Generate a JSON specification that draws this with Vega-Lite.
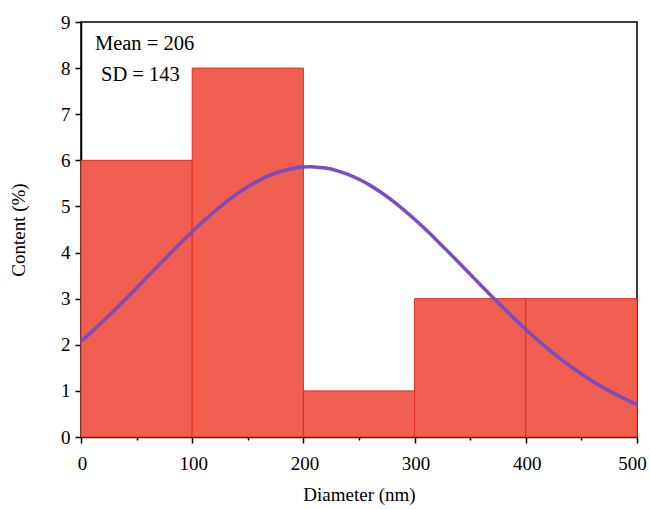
{
  "$schema": "https://vega.github.io/schema/vega-lite/v6.json",
  "width": 556,
  "height": 415,
  "autosize": {"type": "none"},
  "padding": {"left": 81, "top": 22, "right": 13, "bottom": 72},
  "background": "white",
  "config": {
    "view": {"stroke": "black", "strokeWidth": 1.5},
    "font": "Liberation Serif",
    "axis": {
      "domainColor": "black", "domainWidth": 1.5, "tickColor": "black", "tickWidth": 1.5,
      "labelFont": "Liberation Serif", "titleFont": "Liberation Serif",
      "labelFontSize": 19, "titleFontSize": 19, "titleFontWeight": "normal",
      "labelColor": "black", "titleColor": "black", "grid": false
    }
  },
  "datasets": {
    "bars": [
      {"start": 0, "end": 100, "content": 6},
      {"start": 100, "end": 200, "content": 8},
      {"start": 200, "end": 300, "content": 1},
      {"start": 300, "end": 400, "content": 3},
      {"start": 400, "end": 500, "content": 3}
    ],
    "curve": [
      {"d": 0, "c": 2.076}, {"d": 10, "c": 2.291}, {"d": 20, "c": 2.515}, {"d": 30, "c": 2.748},
      {"d": 40, "c": 2.987}, {"d": 50, "c": 3.232}, {"d": 60, "c": 3.48}, {"d": 70, "c": 3.728},
      {"d": 80, "c": 3.975}, {"d": 90, "c": 4.218}, {"d": 100, "c": 4.452}, {"d": 110, "c": 4.678},
      {"d": 120, "c": 4.891}, {"d": 130, "c": 5.088}, {"d": 140, "c": 5.268}, {"d": 150, "c": 5.428},
      {"d": 160, "c": 5.565}, {"d": 170, "c": 5.677}, {"d": 180, "c": 5.764}, {"d": 190, "c": 5.824},
      {"d": 200, "c": 5.855}, {"d": 206, "c": 5.86}, {"d": 210, "c": 5.858}, {"d": 220, "c": 5.832},
      {"d": 230, "c": 5.778}, {"d": 240, "c": 5.697}, {"d": 250, "c": 5.589}, {"d": 260, "c": 5.457},
      {"d": 270, "c": 5.302}, {"d": 280, "c": 5.126}, {"d": 290, "c": 4.932}, {"d": 300, "c": 4.721},
      {"d": 310, "c": 4.498}, {"d": 320, "c": 4.264}, {"d": 330, "c": 4.023}, {"d": 340, "c": 3.778},
      {"d": 350, "c": 3.53}, {"d": 360, "c": 3.282}, {"d": 370, "c": 3.036}, {"d": 380, "c": 2.795},
      {"d": 390, "c": 2.561}, {"d": 400, "c": 2.335}, {"d": 410, "c": 2.118}, {"d": 420, "c": 1.913},
      {"d": 430, "c": 1.718}, {"d": 440, "c": 1.536}, {"d": 450, "c": 1.367}, {"d": 460, "c": 1.21},
      {"d": 470, "c": 1.066}, {"d": 480, "c": 0.935}, {"d": 490, "c": 0.815}, {"d": 500, "c": 0.708}
    ],
    "notes": [
      {"x": 12.5, "y": 8.52, "t": "Mean = 206"},
      {"x": 18, "y": 7.86, "t": "SD = 143"}
    ]
  },
  "layer": [
    {
      "data": {"name": "bars"},
      "mark": {"type": "rect", "fill": "#ef5e4e", "stroke": "#e2301f", "strokeWidth": 1},
      "encoding": {
        "x": {
          "field": "start", "type": "quantitative",
          "scale": {"domain": [0, 500], "nice": false},
          "axis": {
            "title": "Diameter (nm)", "values": [0, 50, 100, 150, 200, 250, 300, 350, 400, 450, 500],
            "labelExpr": "datum.value % 100 === 0 ? datum.label : ''",
            "tickSize": {"condition": {"test": "datum.value % 100 === 0", "value": 6}, "value": 3},
            "labelOffset": {"condition": {"test": "datum.value === 500", "value": -5}, "value": 1},
            "labelPadding": 11, "titlePadding": 12, "labelFlush": false
          }
        },
        "x2": {"field": "end"},
        "y": {
          "field": "content", "type": "quantitative",
          "scale": {"domain": [0, 9], "nice": false},
          "axis": {
            "title": "Content (%)", "values": [0, 0.5, 1, 1.5, 2, 2.5, 3, 3.5, 4, 4.5, 5, 5.5, 6, 6.5, 7, 7.5, 8, 8.5, 9],
            "labelExpr": "datum.value % 1 === 0 ? datum.label : ''",
            "tickSize": {"condition": {"test": "datum.value % 1 === 0", "value": 6}, "value": 3},
            "labelPadding": 5, "titlePadding": 32, "labelFlush": false
          }
        },
        "y2": {"datum": 0}
      }
    },
    {
      "data": {"name": "curve"},
      "mark": {"type": "line", "color": "#7b4cc2", "strokeWidth": 3.5, "interpolate": "monotone"},
      "encoding": {
        "x": {"field": "d", "type": "quantitative"},
        "y": {"field": "c", "type": "quantitative"}
      }
    },
    {
      "data": {"name": "notes"},
      "mark": {"type": "text", "align": "left", "baseline": "middle", "fontSize": 20.5, "font": "Liberation Serif", "color": "black"},
      "encoding": {
        "x": {"field": "x", "type": "quantitative"},
        "y": {"field": "y", "type": "quantitative"},
        "text": {"field": "t"}
      }
    }
  ]
}
